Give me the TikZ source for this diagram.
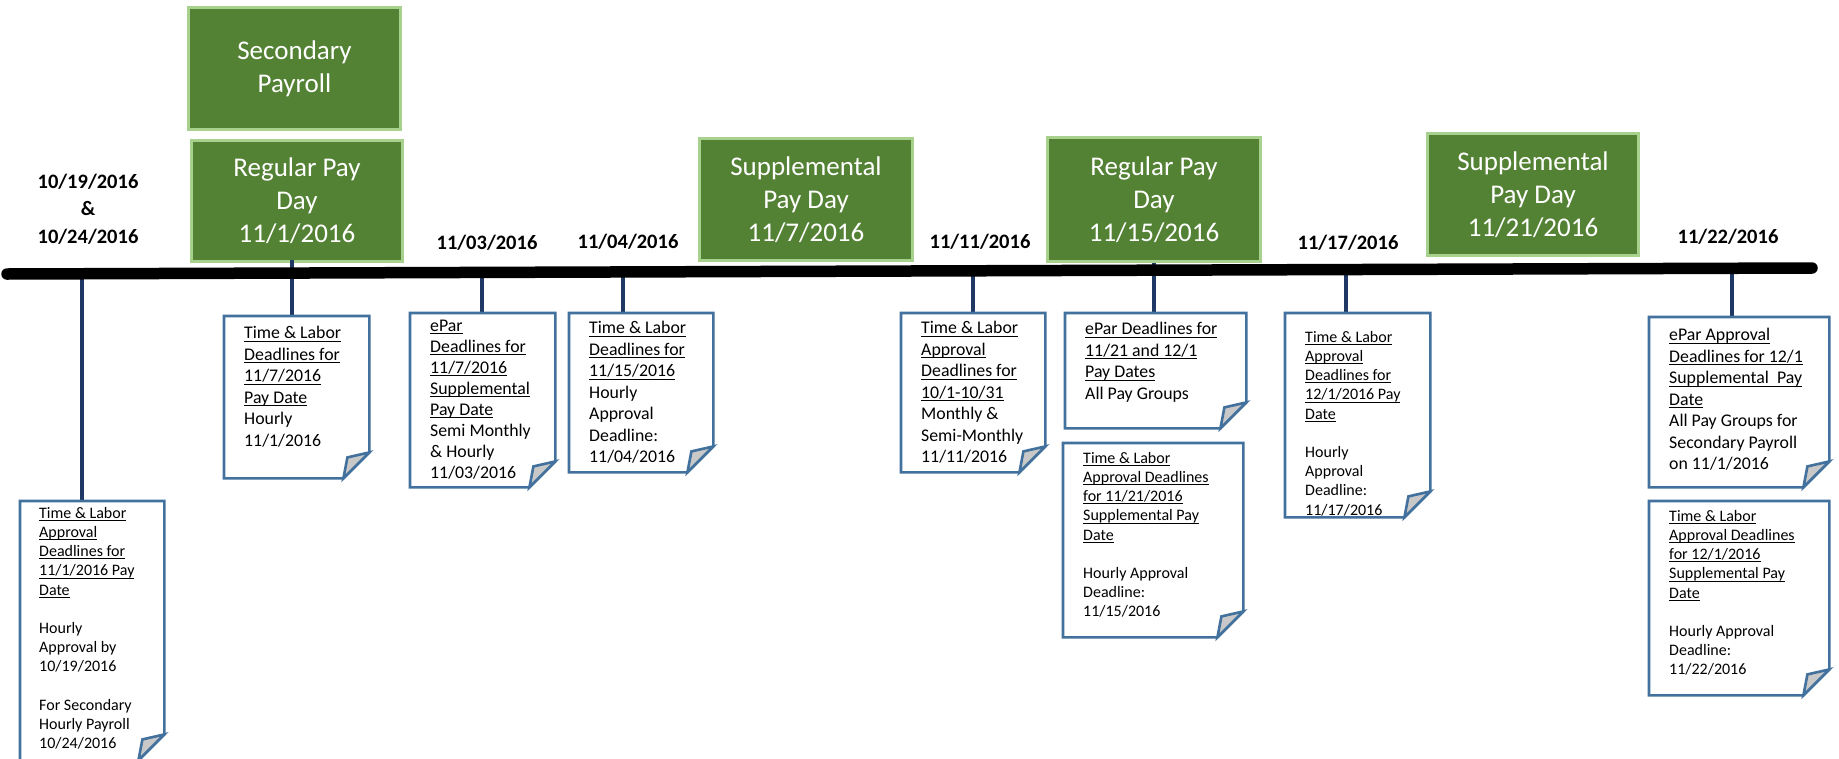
\documentclass[tikz,border=0pt]{standalone}
\usepackage{fontspec}
\setmainfont{Carlito}
\definecolor{gfill}{RGB}{84,130,53}
\definecolor{gedge}{RGB}{169,209,142}
\definecolor{nedge}{RGB}{65,113,156}
\definecolor{conn}{RGB}{31,56,100}
\definecolor{flapc}{RGB}{200,200,200}
\newcommand\ulx[1]{\setbox0\hbox{#1}\rlap{\rule[-0.17em]{\wd0}{0.07em}}#1}
\newcommand\foldnote[1]{%
  \draw[noteline, fill=white] (#1.north west) -- (#1.north east) -- ([yshift=26pt]#1.south east) -- ([xshift=-26pt]#1.south east) -- (#1.south west) -- cycle;
  \draw[noteline, fill=flapc] ([xshift=-26pt]#1.south east) -- ([xshift=-22pt,yshift=21pt]#1.south east) -- ([yshift=26pt]#1.south east) -- cycle;}
\begin{document}
\begin{tikzpicture}[x=1pt,y=-1pt,
  paybox/.style={fill=gfill, draw=gedge, line width=3pt, text=white, align=center, font=\fontsize{27}{33}\selectfont, inner sep=0pt, anchor=north west},
  datelbl/.style={font=\fontsize{20.5}{27.5}\selectfont\bfseries, align=center, inner sep=0pt},
  notearea/.style={inner sep=0pt, anchor=north west},
  noteline/.style={draw=nedge, line width=2.6pt, line join=miter},
  bigtext/.style={font=\fontsize{17.8}{21.5}\selectfont, align=left, inner sep=0pt, anchor=north west},
  smalltext/.style={font=\fontsize{16}{19.2}\selectfont, align=left, inner sep=0pt, anchor=north west},
  connector/.style={draw=conn, line width=3.4pt},
  timeline/.style={line width=11.5pt, line cap=round}
]
\fill[white] (0,0) rectangle (1839,758);
\useasboundingbox (0,0) rectangle (1839,758);

% timeline ends and ticks
\coordinate (tlL) at (7,274);
\coordinate (tlR) at (1812,268);
\coordinate (k1) at (82,274);
\coordinate (k2) at (292,260);
\coordinate (k3) at (482,272);
\coordinate (k4) at (623,272);
\coordinate (k5) at (973,271);
\coordinate (k7) at (1346,270);
\coordinate (k8) at (1732,268);

% green pay boxes
\node[paybox, minimum width=212pt, minimum height=122pt] (g1) at (187,6) {Secondary\\Payroll};
\node[paybox, minimum width=211pt, minimum height=121pt] (g2) at (190,139) {Regular Pay\\Day\\11/1/2016};
\node[paybox, minimum width=213pt, minimum height=122pt] (g3) at (698,137) {Supplemental\\Pay Day\\11/7/2016};
\node[paybox, minimum width=213pt, minimum height=124pt] (g4) at (1046,136) {Regular Pay\\Day\\11/15/2016};
\node[paybox, minimum width=211pt, minimum height=122pt] (g5) at (1426,132) {Supplemental\\Pay Day\\11/21/2016};

% date labels
\node[datelbl] (d1) at (88,209) {10/19/2016\\\&\\10/24/2016};
\node[datelbl] (d2) at (487,243) {11/03/2016};
\node[datelbl] (d3) at (628,242) {11/04/2016};
\node[datelbl] (d4) at (980,242) {11/11/2016};
\node[datelbl] (d5) at (1348,243) {11/17/2016};
\node[datelbl] (d6) at (1728,237) {11/22/2016};

% note areas
\node[notearea, minimum width=144pt, minimum height=259pt] (nA) at (20,501) {};
\node[notearea, minimum width=145pt, minimum height=162pt] (nB) at (224,316) {};
\node[notearea, minimum width=145pt, minimum height=174pt] (nC) at (410,313) {};
\node[notearea, minimum width=144pt, minimum height=159pt] (nD) at (569,313) {};
\node[notearea, minimum width=144pt, minimum height=159pt] (nE) at (901,313) {};
\node[notearea, minimum width=181pt, minimum height=115pt] (nF) at (1065,313) {};
\node[notearea, minimum width=180pt, minimum height=194pt] (nG) at (1063,443) {};
\node[notearea, minimum width=145pt, minimum height=204pt] (nH) at (1285,313) {};
\node[notearea, minimum width=180pt, minimum height=170pt] (nI) at (1649,317) {};
\node[notearea, minimum width=180pt, minimum height=194pt] (nJ) at (1649,501) {};

% connectors
\draw[connector] (k1) -- (k1 |- nA.north);
\draw[connector] (k2) -- (k2 |- nB.north);
\draw[connector] (k3) -- (k3 |- nC.north);
\draw[connector] (k4) -- (k4 |- nD.north);
\draw[connector] (k5) -- (k5 |- nE.north);
\draw[connector] (g4.south) -- (g4.south |- nF.north);
\draw[connector] (k7) -- (k7 |- nH.north);
\draw[connector] (k8) -- (k8 |- nI.north);

% timeline
\draw[timeline] (tlL) -- (tlR);

% notes
\foldnote{nA}\foldnote{nB}\foldnote{nC}\foldnote{nD}\foldnote{nE}
\foldnote{nF}\foldnote{nG}\foldnote{nH}\foldnote{nI}\foldnote{nJ}

\node[smalltext] (tA) at (39,507) {\ulx{Time \& Labor}\\\ulx{Approval}\\\ulx{Deadlines for}\\\ulx{11/1/2016 Pay}\\\ulx{Date}\\[19.2pt]Hourly\\Approval by\\10/19/2016\\[19.2pt]For Secondary\\Hourly Payroll\\10/24/2016};
\node[bigtext] (tB) at (244,326.4) {\ulx{Time \& Labor}\\\ulx{Deadlines for}\\\ulx{11/7/2016}\\\ulx{Pay Date}\\Hourly\\11/1/2016};
\node[bigtext, font=\fontsize{17.8}{21}\selectfont] (tC) at (430,319.4) {\ulx{ePar}\\\ulx{Deadlines for}\\\ulx{11/7/2016}\\\ulx{Supplemental}\\\ulx{Pay Date}\\Semi Monthly\\\& Hourly\\11/03/2016};
\node[bigtext] (tD) at (589,321.4) {\ulx{Time \& Labor}\\\ulx{Deadlines for}\\\ulx{11/15/2016}\\Hourly\\Approval\\Deadline:\\11/04/2016};
\node[bigtext] (tE) at (921,321.4) {\ulx{Time \& Labor}\\\ulx{Approval}\\\ulx{Deadlines for}\\\ulx{10/1-10/31}\\Monthly \&\\Semi-Monthly\\11/11/2016};
\node[bigtext] (tF) at (1085,322.4) {\ulx{ePar Deadlines for}\\\ulx{11/21 and 12/1}\\\ulx{Pay Dates}\\All Pay Groups};
\node[smalltext] (tG) at (1083,452) {\ulx{Time \& Labor}\\\ulx{Approval Deadlines}\\\ulx{for 11/21/2016}\\\ulx{Supplemental Pay}\\\ulx{Date}\\[19.2pt]Hourly Approval\\Deadline:\\11/15/2016};
\node[smalltext] (tH) at (1305,331) {\ulx{Time \& Labor}\\\ulx{Approval}\\\ulx{Deadlines for}\\\ulx{12/1/2016 Pay}\\\ulx{Date}\\[19.2pt]Hourly\\Approval\\Deadline:\\11/17/2016};
\node[bigtext] (tI) at (1669,328.4) {\ulx{ePar Approval}\\\ulx{Deadlines for 12/1}\\\ulx{Supplemental\ \ Pay}\\\ulx{Date}\\All Pay Groups for\\Secondary Payroll\\on 11/1/2016};
\node[smalltext] (tJ) at (1669,510) {\ulx{Time \& Labor}\\\ulx{Approval Deadlines}\\\ulx{for 12/1/2016}\\\ulx{Supplemental Pay}\\\ulx{Date}\\[19.2pt]Hourly Approval\\Deadline:\\11/22/2016};
\end{tikzpicture}
\end{document}
